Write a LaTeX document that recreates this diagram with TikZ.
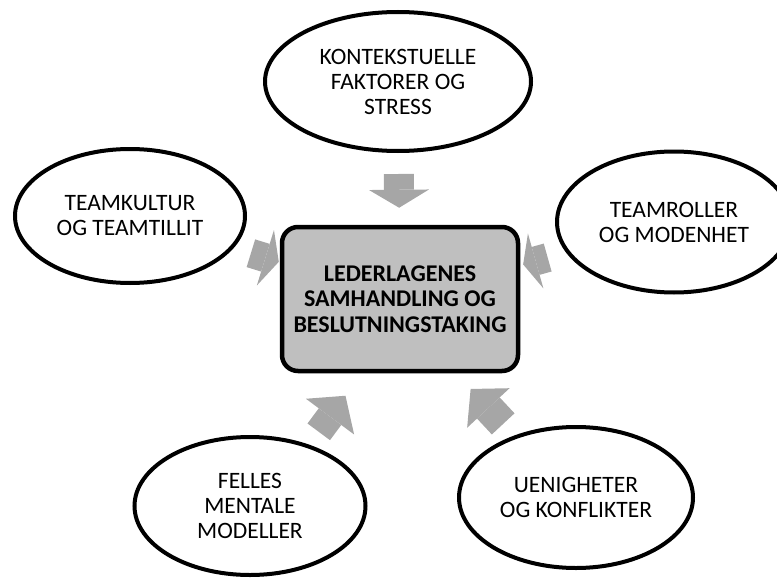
\documentclass[tikz,border=0pt]{standalone}
\usepackage{fontspec}
\setmainfont{Carlito}
\usetikzlibrary{positioning}
\usetikzlibrary{arrows.meta, shapes.geometric}
\definecolor{arrowgray}{RGB}{166,166,166}
\definecolor{hubgray}{RGB}{191,191,191}

\begin{document}
\begin{tikzpicture}[x=1pt, y=-1pt,
  main/.style = {draw, ellipse, line width=4pt, inner sep=0pt, align=center, font=\fontsize{23.5}{25}\selectfont},
  hub/.style = {draw, rectangle, rounded corners=16pt, fill=hubgray, line width=4.5pt, align=center, minimum width=236pt, minimum height=144pt, font=\bfseries\fontsize{24}{25.5}\selectfont},
  flow/.style 2 args = {draw=arrowgray, line width=30pt, -{Triangle[width=#1, length=#2, line width=0pt]}}]
\useasboundingbox (0,0) rectangle (777,578);
\node[hub] (0) at (400,299) {LEDERLAGENES\\SAMHANDLING OG\\BESLUTNINGSTAKING};
\node[main, minimum width=266pt, minimum height=139pt] (1) at (398,81.5) {KONTEKSTUELLE\\FAKTORER OG\\STRESS};
\node[main, minimum width=230pt, minimum height=134pt] (2) at (130,216) {TEAMKULTUR\\OG TEAMTILLIT};
\node[main, minimum width=234pt, minimum height=141pt] (3) at (674,222) {TEAMROLLER\\OG MODENHET};
\node[main, minimum width=231pt, minimum height=138pt] (4) at (250,506) {FELLES\\MENTALE\\MODELLER};
\node[main, minimum width=234pt, minimum height=141pt] (5) at (576,497.5) {UENIGHETER\\OG KONFLIKTER};
\path (1) edge [flow={60pt}{18pt}, shorten <=21pt, shorten >=17pt] (0);
\path (2) edge [flow={58pt}{14pt}, line width=29pt, shorten <=18pt, shorten >=1pt] (0);
\path (3) edge [flow={57pt}{13pt}, line width=29pt, shorten <=19pt, shorten >=3pt] (0);
\path (4.46) edge [flow={60pt}{26pt}, line width=28pt, shorten <=16pt, shorten >=28pt] (0.243);
\path (5.135) edge [flow={58pt}{26pt}, line width=31pt, shorten <=16pt, shorten >=21.5pt] (0.307);
\end{tikzpicture}
\end{document}
